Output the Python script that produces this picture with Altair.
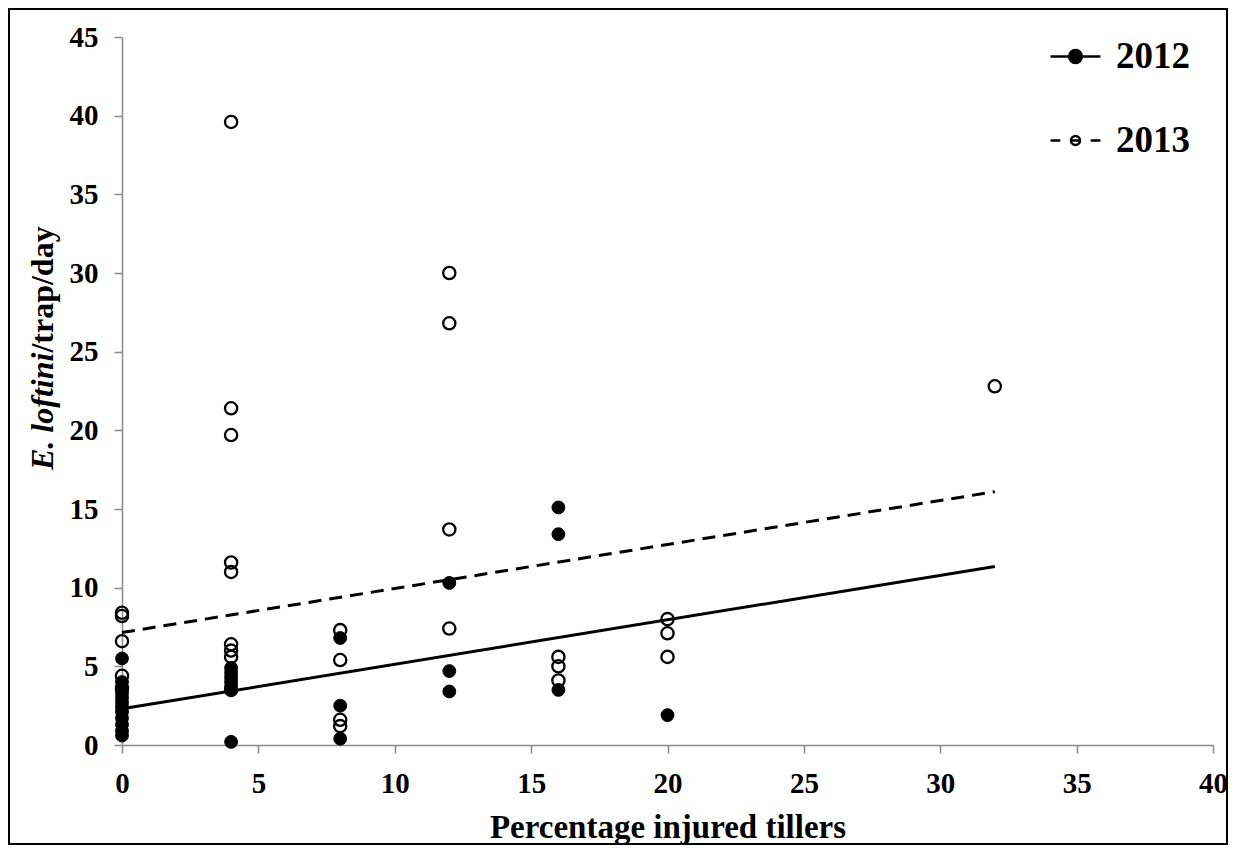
import altair as alt
import pandas as pd

# ---- data ----
x_2012 = [0]*12 + [4]*7 + [8]*3 + [12]*3 + [16]*3 + [20]
y_2012 = [5.5, 4.0, 3.6, 3.3, 3.0, 2.7, 2.4, 2.1, 1.7, 1.3, 0.9, 0.6,
          4.9, 4.6, 4.3, 4.0, 3.7, 3.5, 0.2,
          6.8, 2.5, 0.4,
          10.3, 4.7, 3.4,
          15.1, 13.4, 3.5,
          1.9]
x_2013 = [0]*5 + [4]*9 + [8]*4 + [12]*4 + [16]*3 + [20]*3 + [32]
y_2013 = [8.4, 8.2, 6.6, 4.4, 3.6,
          39.6, 21.4, 19.7, 11.6, 11.0, 6.4, 6.0, 5.6, 3.5,
          7.3, 5.4, 1.6, 1.2,
          30.0, 26.8, 13.7, 7.4,
          5.6, 5.0, 4.1,
          8.0, 7.1, 5.6,
          22.8]
line_x = [0, 32]
fit_2012 = [2.3, 11.35]
fit_2013 = [7.15, 16.1]
years = ["2012", "2013"]
x_ticks = list(range(0, 41, 5))
y_ticks = list(range(0, 46, 5))

pts = pd.DataFrame({
    "x": x_2012 + x_2013,
    "y": y_2012 + y_2013,
    "year": ["2012"] * len(x_2012) + ["2013"] * len(x_2013),
})
lines = pd.DataFrame({
    "x": line_x + line_x,
    "y": fit_2012 + fit_2013,
    "year": ["2012"] * 2 + ["2013"] * 2,
})

FONT = "Liberation Serif"
W, H = 1091, 708

xs = alt.Scale(domain=[0, 40], nice=False)
ys = alt.Scale(domain=[0, 45], nice=False)
xaxis = alt.Axis(values=x_ticks, title="Percentage injured tillers", titleY=92,
                 titleBaseline="alphabetic", labelBaseline="alphabetic", labelPadding=39)
yaxis = alt.Axis(values=y_ticks, title=None, labelPadding=16)

base = alt.Chart(pts)

open_pts = base.transform_filter(alt.datum.year == "2013").mark_point(
    shape="circle", filled=False, stroke="black", strokeWidth=2.3, size=150, opacity=1
).encode(x=alt.X("x:Q", scale=xs, axis=xaxis), y=alt.Y("y:Q", scale=ys, axis=yaxis))

fill_pts = base.transform_filter(alt.datum.year == "2012").mark_point(
    shape="circle", filled=True, fill="black", stroke="black", strokeWidth=1, size=165, opacity=1
).encode(x=alt.X("x:Q", scale=xs), y=alt.Y("y:Q", scale=ys))

lbase = alt.Chart(lines)
line12 = lbase.transform_filter(alt.datum.year == "2012").mark_line(
    color="black", strokeWidth=3
).encode(x=alt.X("x:Q", scale=xs), y=alt.Y("y:Q", scale=ys))
line13 = lbase.transform_filter(alt.datum.year == "2013").mark_line(
    color="black", strokeWidth=3, strokeDash=[13, 8]
).encode(x=alt.X("x:Q", scale=xs), y=alt.Y("y:Q", scale=ys))

path12 = "M-1.56,0H1.56M-0.4,0A0.4,0.4,0,1,1,0.4,0A0.4,0.4,0,1,1,-0.4,0Z"
path13 = ("M-1.56,0H-0.95M0.95,0H1.56"
          "M-0.28,0A0.28,0.28,0,1,1,0.28,0A0.28,0.28,0,1,1,-0.28,0Z"
          "M-0.28,0H0.28")

legend = alt.Legend(
    orient="none", legendX=935, legendY=1, title=None, padding=0,
    labelFont=FONT, labelFontSize=37, labelFontWeight="bold", labelColor="black",
    labelOffset=22, rowPadding=46, symbolSize=1024, symbolStrokeWidth=2.5,
    symbolOpacity=1,
)
legend_layer = base.mark_point(filled=True, strokeWidth=2.5).encode(
    x=alt.X("x:Q", scale=xs), y=alt.Y("y:Q", scale=ys),
    shape=alt.Shape("year:N", scale=alt.Scale(domain=years, range=[path12, path13]), legend=legend),
    fill=alt.Fill("year:N", scale=alt.Scale(domain=years, range=["black", "white"]), legend=legend),
    stroke=alt.Stroke("year:N", scale=alt.Scale(domain=years, range=["black", "black"]), legend=legend),
    opacity=alt.value(0),
)

one = alt.Chart(alt.Data(values=[{"k": 1}]))
ytitle1 = one.mark_text(angle=270, align="left", baseline="middle", font=FONT, fontSize=32,
                        fontWeight="bold", fontStyle="italic", color="black").encode(
    x=alt.value(-79), y=alt.value(433), text=alt.value("E. loftini"))
ytitle2 = one.mark_text(angle=270, align="left", baseline="middle", font=FONT, fontSize=32,
                        fontWeight="bold", color="black").encode(
    x=alt.value(-79), y=alt.value(315.6), text=alt.value("/trap/day"))
frame = one.mark_rect(fill=None, fillOpacity=0, stroke="black", strokeWidth=2).encode(
    x=alt.value(-113), x2=alt.value(1105), y=alt.value(-28), y2=alt.value(807))

chart = alt.layer(
    frame, open_pts, fill_pts, line12, line13, legend_layer, ytitle1, ytitle2
).properties(
    width=W, height=H,
    autosize=alt.AutoSizeParams(type="none"),
    padding={"left": 114, "top": 29, "right": 15, "bottom": 100},
    background="white",
).configure_view(stroke=None).configure_axis(
    grid=False, domainColor="#8a8a8a", domainWidth=1.5, tickColor="#8a8a8a",
    tickWidth=1.5, tickSize=8, labelFont=FONT, labelFontSize=29, labelFontWeight="bold",
    labelColor="black", titleFont=FONT, titleFontSize=33, titleFontWeight="bold",
    titleColor="black", labelFlush=False, labelOverlap=False,
)

chart.save("out.html", embed_options={"renderer": "svg", "actions": False})
